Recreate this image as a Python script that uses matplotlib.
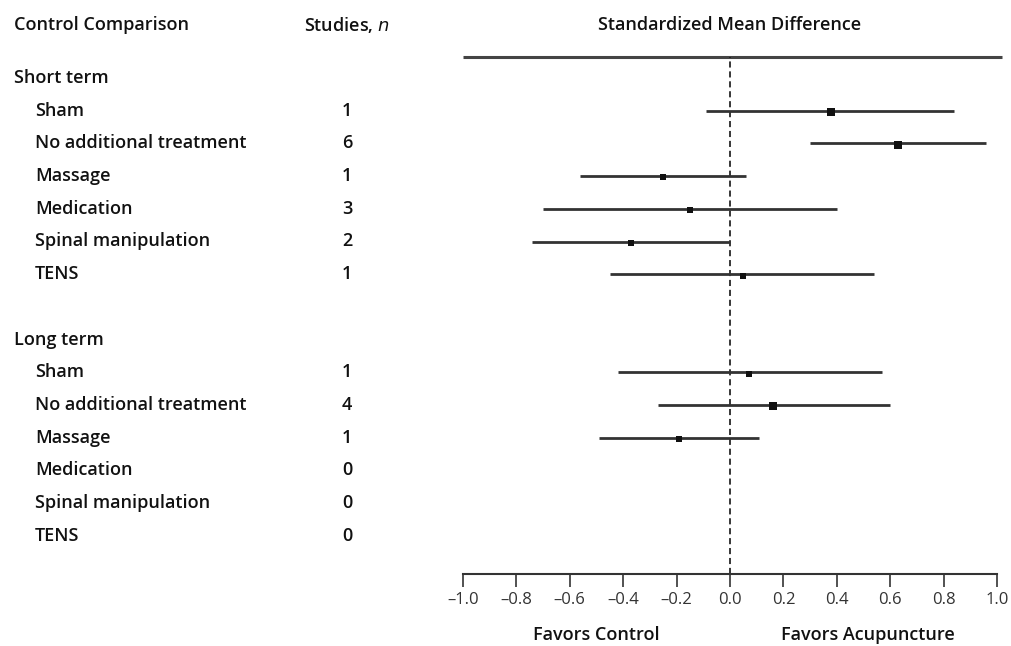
import numpy as np
import matplotlib
matplotlib.use("Agg")
import matplotlib.pyplot as plt
import matplotlib.transforms as mtransforms

plt.rcParams['font.family'] = ['Open Sans', 'DejaVu Sans']

# Data
comparisons = ["Sham", "No additional treatment", "Massage", "Medication",
               "Spinal manipulation", "TENS"]
groups = ["Short term", "Long term"]

short_n = [1, 6, 1, 3, 2, 1]
short_est = [0.38, 0.63, -0.25, -0.15, -0.37, 0.05]
short_lo = [-0.09, 0.30, -0.56, -0.70, -0.74, -0.45]
short_hi = [0.84, 0.96, 0.06, 0.40, 0.00, 0.54]
short_weight = [1.0, 0.8, 0.4, 0.4, 0.4, 0.7]

long_n = [1, 4, 1, 0, 0, 0]
long_est = [0.07, 0.16, -0.19, np.nan, np.nan, np.nan]
long_lo = [-0.42, -0.27, -0.49, np.nan, np.nan, np.nan]
long_hi = [0.57, 0.60, 0.11, np.nan, np.nan, np.nan]
long_weight = [0.4, 0.8, 0.7, 0, 0, 0]

xticks = [-1.0, -0.8, -0.6, -0.4, -0.2, 0.0, 0.2, 0.4, 0.6, 0.8, 1.0]

W, H = 1011, 646
fig = plt.figure(figsize=(W / 100, H / 100), dpi=100)

# layout in pixels of the reference
ax_left, ax_right = 463, 997
ax_top, ax_bottom = 57, 574
row0_px, row_px = 78, 32.7

def px_to_row(py):
    return (py - row0_px) / row_px

ax = fig.add_axes([ax_left / W, 1 - ax_bottom / H,
                   (ax_right - ax_left) / W, (ax_bottom - ax_top) / H])
ax.set_xlim(-1, 1)
ax.set_ylim(px_to_row(ax_bottom), px_to_row(ax_top))

for s in ["top", "left", "right"]:
    ax.spines[s].set_visible(False)
ax.spines["bottom"].set_linewidth(1.5)
ax.spines["bottom"].set_color("#333333")
ax.set_yticks([])
ax.set_xticks(xticks)
ax.set_xticklabels([f"{t:.1f}".replace("-", "\u2013") for t in xticks],
                   fontsize=12, color="#333333")
ax.tick_params(axis="x", direction="out", length=9.5, width=1.2,
               color="#333333", pad=3.5)

# top rule and reference line
ax.plot([-1, 1.02], [px_to_row(ax_top)] * 2, color="#444444", lw=2.2,
        clip_on=False, solid_capstyle="butt")
ax.axvline(0, color="black", lw=1.1, ls=(0, (4, 2.5)))

text_tf = mtransforms.blended_transform_factory(fig.transFigure, ax.transData)
txt_color = "#111111"
fs = 13

hdr_row = px_to_row(25)
ax.text(14 / W, hdr_row, "Control Comparison", transform=text_tf,
        ha="left", va="center", fontsize=fs, fontweight="semibold", color=txt_color)
ax.text(304 / W, hdr_row, "Studies, $\\it{n}$", transform=text_tf,
        ha="left", va="center", fontsize=fs, fontweight="semibold", color=txt_color)
ax.text(0, hdr_row, "Standardized Mean Difference", ha="center", va="center",
        fontsize=fs, fontweight="semibold", color=txt_color, clip_on=False)

blocks = [
    (groups[0], short_n, short_est, short_lo, short_hi, short_weight, 0),
    (groups[1], long_n, long_est, long_lo, long_hi, long_weight, 8),
]

for name, ns, est, lo, hi, wt, start in blocks:
    ax.text(14 / W, start, name, transform=text_tf, ha="left", va="center",
            fontsize=fs, fontweight="semibold", color=txt_color)
    for i, label in enumerate(comparisons):
        r = start + 1 + i
        ax.text(35 / W, r, label, transform=text_tf, ha="left", va="center",
                fontsize=fs, fontweight="semibold", color=txt_color)
        ax.text(347 / W, r, str(ns[i]), transform=text_tf, ha="center",
                va="center", fontsize=fs, fontweight="semibold", color=txt_color)
        if not np.isnan(est[i]):
            ax.plot([lo[i], hi[i]], [r, r], color="#333333", lw=2.0,
                    solid_capstyle="butt")
            ax.plot(est[i], r + 0.04, marker="s", color="#111111",
                    markersize=2.5 + 3.5 * wt[i], markeredgewidth=0)

fig.text(596 / W, 1 - 635 / H, "Favors Control", ha="center", va="center",
         fontsize=fs, fontweight="semibold", color=txt_color)
fig.text(868 / W, 1 - 635 / H, "Favors Acupuncture", ha="center", va="center",
         fontsize=fs, fontweight="semibold", color=txt_color)

fig.savefig("out.png", dpi=100, facecolor="white")
